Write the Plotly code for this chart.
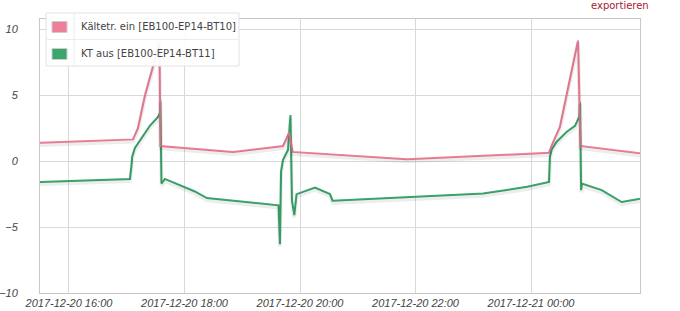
import plotly.graph_objects as go
import pandas as pd

# ---- data ----
pink_times = ["2017-12-20 15:29:50", "2017-12-20 17:06:30", "2017-12-20 17:11:40", "2017-12-20 17:19:00",
              "2017-12-20 17:27:20", "2017-12-20 17:34:00", "2017-12-20 17:35:00", "2017-12-20 18:50:20",
              "2017-12-20 19:42:20", "2017-12-20 19:48:40", "2017-12-20 19:52:20", "2017-12-20 21:02:20",
              "2017-12-20 21:51:10", "2017-12-21 00:18:40", "2017-12-21 00:21:30", "2017-12-21 00:30:00",
              "2017-12-21 00:35:20", "2017-12-21 00:43:40", "2017-12-21 00:48:50", "2017-12-21 00:51:20",
              "2017-12-21 01:53:10"]
pink_values = [1.4, 1.65, 2.5, 5.0, 7.2, 9.0, 1.15, 0.7, 1.15, 2.15, 0.7, 0.4, 0.15, 0.63, 1.2, 2.6,
               4.4, 7.2, 9.15, 1.15, 0.6]

green_times = ["2017-12-20 15:29:50", "2017-12-20 17:03:20", "2017-12-20 17:05:00", "2017-12-20 17:05:40",
               "2017-12-20 17:08:30", "2017-12-20 17:13:50", "2017-12-20 17:24:10", "2017-12-20 17:32:30",
               "2017-12-20 17:34:30", "2017-12-20 17:34:55", "2017-12-20 17:36:05", "2017-12-20 17:39:40",
               "2017-12-20 18:10:50", "2017-12-20 18:23:20", "2017-12-20 19:37:40", "2017-12-20 19:39:10",
               "2017-12-20 19:40:20", "2017-12-20 19:42:20", "2017-12-20 19:47:30", "2017-12-20 19:50:05",
               "2017-12-20 19:51:40", "2017-12-20 19:54:05", "2017-12-20 19:56:25", "2017-12-20 20:15:35",
               "2017-12-20 20:31:10", "2017-12-20 20:33:50", "2017-12-20 23:10:05", "2017-12-20 23:55:50",
               "2017-12-21 00:18:40", "2017-12-21 00:19:40", "2017-12-21 00:21:30", "2017-12-21 00:26:40",
               "2017-12-21 00:37:05", "2017-12-21 00:45:40", "2017-12-21 00:50:10", "2017-12-21 00:50:55",
               "2017-12-21 00:52:00", "2017-12-21 00:53:00", "2017-12-21 01:13:30", "2017-12-21 01:34:10",
               "2017-12-21 01:53:10"]
green_values = [-1.58, -1.35, -0.3, 0.33, 1.0, 1.6, 2.7, 3.35, 3.65, 4.65, -1.7, -1.35,
                -2.3, -2.8, -3.35, -6.3, -0.8, 0.1, 0.84, 3.5,
                -3.0, -4.1, -2.5, -2.0, -2.5, -3.0, -2.45, -1.95,
                -1.58, 0.33, 0.9, 1.47, 2.23, 2.67, 3.37, 4.5,
                -2.2, -1.7, -2.2, -3.1, -2.85]

series_names = ["Kältetr. ein [EB100-EP14-BT10]", "KT aus [EB100-EP14-BT11]"]
series_colors = ["#ef7f98", "#3ba66b"]
y_tick_vals = [-10, -5, 0, 5, 10]

x_range = ["2017-12-20 15:29:54", "2017-12-21 01:53:12"]
y_range = [-10, 10.78]

W, H = 680, 311
ML, MR, MT, MB = 40, 40, 19, 18

fig = go.Figure()

# subtle drop shadows on an overlaid axis shifted by ~2px
shadow_shift = 2.2 / 13.19
for t, v in [(green_times, green_values), (pink_times, pink_values)]:
    fig.add_trace(go.Scatter(x=pd.to_datetime(t), y=v, mode="lines", yaxis="y2",
                             line=dict(color="rgba(0,0,0,0.07)", width=4),
                             hoverinfo="skip", showlegend=False))

for t, v, name, c in [(green_times, green_values, series_names[1], series_colors[1]),
                      (pink_times, pink_values, series_names[0], series_colors[0])]:
    fig.add_trace(go.Scatter(x=pd.to_datetime(t), y=v, mode="lines", name=name,
                             line=dict(color=c, width=2), showlegend=False))

tick_font = dict(family="Liberation Sans, Arial, sans-serif", size=11, color="#444", style="italic")

fig.update_layout(
    width=W, height=H,
    margin=dict(l=ML, r=MR, t=MT, b=MB),
    paper_bgcolor="white", plot_bgcolor="white",
    xaxis=dict(range=x_range, type="date", dtick=2 * 3600 * 1000, tick0="2017-12-20 00:00",
               tickformat="%Y-%m-%d %H:%M", showgrid=True, gridcolor="#d9d9d9", gridwidth=1,
               showline=True, linecolor="#c8c8c8", mirror=True, ticks="", ticklen=0,
               tickfont=tick_font, automargin=False, zeroline=False, fixedrange=True),
    yaxis=dict(range=y_range, tickvals=y_tick_vals, showgrid=True, gridcolor="#d9d9d9",
               showline=True, linecolor="#c8c8c8", mirror=True, ticks="outside", ticklen=19,
               tickcolor="rgba(0,0,0,0)", tickfont=tick_font, automargin=False,
               zeroline=False, fixedrange=True),
    yaxis2=dict(range=[y_range[0] + shadow_shift, y_range[1] + shadow_shift], overlaying="y",
                visible=False, fixedrange=True),
    showlegend=False,
)

# paper coordinates are relative to the plot area
def px(xp):
    return (xp - ML) / (W - ML - MR)
def py(yp):
    return (H - MB - yp) / (H - MT - MB)

# custom legend box (square swatches, as in the reference)
lx0, lx1, ly0, ly1 = 46, 239, 13, 66
fig.add_shape(type="rect", xref="paper", yref="paper", x0=px(lx0), x1=px(lx1), y0=py(ly1), y1=py(ly0),
              line=dict(color="#e2e2e2", width=1), fillcolor="rgba(255,255,255,0.92)", layer="above")
fig.add_shape(type="line", xref="paper", yref="paper", x0=px(lx0), x1=px(lx1), y0=py(39.5), y1=py(39.5),
              line=dict(color="#ececec", width=1), layer="above")
fig.add_shape(type="line", xref="paper", yref="paper", x0=px(74), x1=px(74), y0=py(ly1), y1=py(ly0),
              line=dict(color="#ececec", width=1), layer="above")
for i, (name, c) in enumerate(zip(series_names, series_colors)):
    cy = 26.5 + i * 27
    fig.add_shape(type="rect", xref="paper", yref="paper", x0=px(52), x1=px(67), y0=py(cy + 6), y1=py(cy - 5),
                  line=dict(color="#cccccc", width=1), fillcolor=c, layer="above")
    fig.add_annotation(xref="paper", yref="paper", x=px(79), y=py(cy), text=name, showarrow=False,
                       xanchor="left", yanchor="middle",
                       font=dict(family="DejaVu Sans, Verdana, sans-serif", size=10, color="#444"))

fig.add_annotation(xref="paper", yref="paper", x=px(651), y=py(6), text="exportieren", showarrow=False,
                   xanchor="right", yanchor="middle", yshift=0,
                   font=dict(family="DejaVu Sans, Verdana, sans-serif", size=10, color="#a8202f"))

fig.write_html("out.html")
